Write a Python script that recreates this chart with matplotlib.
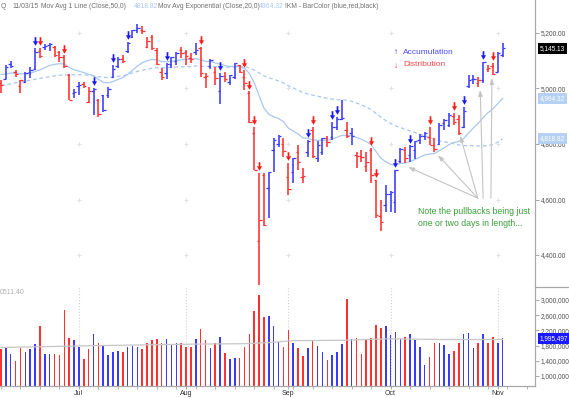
import numpy as np
import pandas as pd
import matplotlib
matplotlib.use('Agg')
import matplotlib.pyplot as plt
from matplotlib.path import Path
from matplotlib.lines import Line2D
from matplotlib.ticker import FixedLocator, MultipleLocator, NullFormatter

plt.rcParams['font.family'] = ['Liberation Sans', 'DejaVu Sans']

# ---------------- data ----------------
dates = (
    ['2015-06-%02d' % d for d in [9, 10, 11, 12, 15, 16, 17, 18, 19, 22, 23, 24, 25, 26, 29, 30]] +
    ['2015-07-%02d' % d for d in [1, 2, 6, 7, 8, 9, 10, 13, 14, 15, 16, 17, 20, 21, 22, 23, 24, 27, 28, 29, 30, 31]] +
    ['2015-08-%02d' % d for d in [3, 4, 5, 6, 7, 10, 11, 12, 13, 14, 17, 18, 19, 20, 21, 24, 25, 26, 27, 28, 31]] +
    ['2015-09-%02d' % d for d in [1, 2, 3, 4, 8, 9, 10, 11, 14, 15, 16, 17, 18, 21, 22, 23, 24, 25, 28, 29, 30]] +
    ['2015-10-%02d' % d for d in [1, 2, 5, 6, 7, 8, 9, 12, 13, 14, 15, 16, 19, 20, 21, 22, 23, 26, 27, 28, 29, 30]] +
    ['2015-11-%02d' % d for d in [2, 3]]
)

opens = [5020, 5035, 5088, 5060, 5010, 5025, 5058, 5070, 5135, 5150,
         5155, 5150, 5130, 5115, 5050, 4985, 5010, 5018, 4950, 4990,
         4960, 4975, 4975, 5040, 5080, 5105, 5135, 5185, 5212, 5210,
         5150, 5185, 5140, 5060, 5055, 5090, 5100, 5140, 5130, 5110,
         5130, 5145, 5040, 5080, 5060, 4990, 5045, 5025, 5040, 5085,
         5040, 4985, 4840, 4450, 4690, 4640, 4780, 4800, 4800, 4680,
         4700, 4770, 4680, 4770, 4850, 4750, 4770, 4820, 4825, 4860,
         4890, 4850, 4840, 4760, 4755, 4720, 4780, 4670, 4540, 4580,
         4620, 4590, 4740, 4780, 4760, 4780, 4815, 4830, 4825, 4795,
         4800, 4875, 4870, 4900, 4890, 4860, 5010, 5035, 5020, 5030,
         5070, 5080, 5060, 5120]
highs = [5030, 5085, 5099, 5066, 5031, 5059, 5077, 5146, 5146, 5160,
         5165, 5152, 5135, 5120, 5051, 4997, 5023, 5023, 5005, 5002,
         4962, 4977, 5005, 5085, 5113, 5120, 5168, 5211, 5231, 5224,
         5186, 5193, 5146, 5074, 5092, 5113, 5130, 5150, 5140, 5128,
         5164, 5150, 5056, 5105, 5077, 5056, 5060, 5050, 5092, 5085,
         5067, 4990, 4861, 4697, 4697, 4699, 4822, 4832, 4822, 4731,
         4750, 4796, 4713, 4814, 4861, 4810, 4822, 4830, 4879, 4897,
         4960, 4879, 4858, 4771, 4780, 4771, 4786, 4670, 4598, 4652,
         4630, 4708, 4786, 4790, 4795, 4812, 4835, 4843, 4861, 4822,
         4876, 4890, 4911, 4912, 4904, 4933, 5049, 5049, 5040, 5096,
         5085, 5092, 5131, 5164]
lows = [4985, 5033, 5074, 5040, 4984, 5020, 5038, 5068, 5110, 5139,
        5135, 5114, 5095, 5075, 4958, 4966, 4977, 5002, 4948, 4904,
        4897, 4915, 4966, 5038, 5074, 5092, 5128, 5182, 5200, 5195,
        5146, 5139, 5085, 5030, 5035, 5074, 5085, 5110, 5085, 5092,
        5120, 5043, 5002, 5070, 5013, 4943, 5025, 5013, 5035, 5055,
        4995, 4876, 4706, 4292, 4504, 4533, 4699, 4789, 4753, 4616,
        4660, 4706, 4660, 4753, 4750, 4735, 4760, 4790, 4815, 4850,
        4886, 4820, 4796, 4713, 4735, 4699, 4660, 4533, 4487, 4555,
        4555, 4551, 4731, 4730, 4735, 4745, 4800, 4815, 4796, 4771,
        4796, 4850, 4861, 4870, 4832, 4858, 5002, 5015, 5005, 5020,
        5060, 5049, 5059, 5113]
closes = [5013.87, 5076.69, 5082.51, 5051.10, 5029.97, 5055.55, 5064.88, 5132.95, 5117.00, 5153.97,
          5160.09, 5122.41, 5112.19, 5080.51, 4958.47, 4986.87, 5013.12, 5009.21, 4991.94, 4997.46,
          4909.76, 4922.40, 4997.70, 5071.51, 5104.89, 5098.94, 5163.18, 5210.14, 5218.86, 5208.12,
          5171.77, 5146.41, 5088.63, 5039.78, 5089.21, 5111.73, 5128.79, 5128.28, 5115.38, 5105.55,
          5139.94, 5056.44, 5043.54, 5101.80, 5036.79, 5044.39, 5033.56, 5048.24, 5091.70, 5059.35,
          5019.05, 4877.49, 4706.04, 4526.25, 4506.49, 4697.54, 4812.71, 4828.33, 4776.51, 4636.10,
          4749.98, 4733.50, 4683.92, 4811.93, 4756.53, 4796.25, 4822.34, 4805.76, 4860.52, 4889.24,
          4893.95, 4827.23, 4828.95, 4756.72, 4752.74, 4734.48, 4686.50, 4543.97, 4517.32, 4620.16,
          4627.08, 4707.78, 4781.26, 4748.36, 4791.15, 4810.79, 4830.47, 4838.64, 4796.61, 4782.85,
          4870.10, 4886.69, 4905.47, 4880.97, 4840.12, 4920.05, 5031.86, 5034.70, 5030.15, 5095.69,
          5074.27, 5053.75, 5127.15, 5145.13]
# 50 closes before the first bar (for the moving averages)
pre_closes = [4891.22, 4947.44, 4900.88, 4880.23, 4886.94, 4917.32, 4910.23, 4950.82, 4974.56, 4995.98,
              4988.25, 4977.29, 5011.02, 5007.79, 4931.81, 4994.60, 5014.10, 5035.17, 5056.06, 5092.08,
              5060.25, 5055.42, 5023.64, 4941.42, 5005.39, 5016.93, 4939.33, 4919.64, 4945.54, 5003.55,
              4993.57, 4976.19, 4981.69, 5050.80, 5048.29, 5078.44, 5070.03, 5071.74, 5090.79, 5089.36,
              5032.75, 5106.59, 5097.98, 5070.03, 5082.93, 5076.52, 5099.23, 5059.12, 5068.46, 5021.63]
volumes = [1710000, 1760000, 1570000, 1390000, 1740000, 1620000, 1710000, 1840000, 2320000, 1580000,
           1580000, 1580000, 1560000, 2740000, 1990000, 1940000, 1770000, 1450000, 1710000, 2100000,
           1860000, 1800000, 1550000, 1640000, 1660000, 1640000, 1770000, 1800000, 1750000, 1710000,
           1860000, 1940000, 1970000, 1880000, 1970000, 1840000, 1870000, 1870000, 1770000, 1770000,
           1980000, 2240000, 1940000, 1740000, 1880000, 2030000, 1600000, 1450000, 1470000, 1470000,
           1750000, 2100000, 2710000, 3130000, 2560000, 2590000, 2320000, 1900000, 1770000, 2210000,
           1880000, 1740000, 1520000, 1740000, 1920000, 1800000, 1640000, 1420000, 1550000, 1640000,
           1840000, 3030000, 1970000, 1990000, 1570000, 1940000, 1990000, 2340000, 2250000, 2310000,
           2070000, 2150000, 1970000, 2030000, 2100000, 1940000, 1770000, 1300000, 1510000, 1860000,
           1880000, 1810000, 1580000, 1660000, 1860000, 2110000, 2120000, 1740000, 1880000, 2100000,
           1880000, 2030000, 1860000, 1995497]
vol_ma_idx = [0, 20, 40, 50, 55, 60, 70, 80, 90, 103]
vol_ma_vals = [1750000, 1800000, 1840000, 1850000, 1880000, 1930000, 1940000, 1980000, 1960000, 1960000]

accumulation_days = ['2015-06-18', '2015-07-07', '2015-07-13', '2015-07-16', '2015-07-28', '2015-08-12',
                     '2015-09-08', '2015-09-15', '2015-09-16', '2015-10-02', '2015-10-07', '2015-10-22',
                     '2015-10-28']
distribution_days = ['2015-06-19', '2015-06-26', '2015-08-06', '2015-08-19', '2015-08-20', '2015-08-21',
                     '2015-08-24', '2015-09-01', '2015-09-09', '2015-09-25', '2015-09-28', '2015-10-13',
                     '2015-10-20', '2015-10-30']

price_ticks = [5200, 5000, 4800, 4600, 4400]
vol_ticks = [3000000, 2600000, 2200000, 1800000, 1400000, 1000000]
last_close_label = '5,145.13'
ema_label = '4,964.32'
sma_label = '4,818.82'
vol_label = '1,995,497'

# ---------------- derived ----------------
n = len(closes)
x = np.arange(n)
opens, highs, lows, closes = map(np.array, (opens, highs, lows, closes))
volumes = np.array(volumes)
prev_close = np.concatenate([[pre_closes[-1]], closes[:-1]])
BLUE = '#3a3aff'
RED = '#ff3030'
col = np.where(closes >= prev_close, BLUE, RED)

allc = pd.Series(list(pre_closes) + list(closes))
sma50 = allc.rolling(50).mean().to_numpy()[len(pre_closes):]
ema20 = allc.ewm(span=20, adjust=False).mean().to_numpy()[len(pre_closes):]

dts = pd.to_datetime(dates)
month_idx = [i for i in range(1, n) if dts[i].month != dts[i - 1].month]
month_lab = [dts[i].strftime('%b') for i in month_idx]
date_pos = {d: i for i, d in enumerate(dates)}
acc_idx = np.array([date_pos[d] for d in accumulation_days])
dist_idx = np.array([date_pos[d] for d in distribution_days])

# ---------------- figure ----------------
W, H = 569, 398
fig = plt.figure(figsize=(W / 100, H / 100), dpi=100)
fig.patch.set_facecolor('white')
ax = fig.add_axes([0, 1 - 287 / H, 535 / W, 287 / H])
axv = fig.add_axes([0, 1 - 386 / H, 535 / W, 99 / H])

AXC = '#a8a8a8'
LBL = '#505050'
TFS = 4.7
for a in (ax, axv):
    a.set_facecolor('white')
    for s in ('top', 'left', 'bottom'):
        a.spines[s].set_visible(False)
    a.spines['right'].set_color(AXC)
    a.spines['right'].set_linewidth(0.9)
    a.set_xlim(-0.2, 109.65)
    a.yaxis.tick_right()
    a.tick_params(axis='y', labelsize=TFS, length=3, width=0.7, color=AXC, labelcolor=LBL, pad=1)

ax.set_ylim(4284.7, 5318.9)
ax.set_yticks(price_ticks)
ax.set_yticklabels([f'{v:,.2f}' for v in price_ticks])
ax.tick_params(axis='x', bottom=False, labelbottom=False)

axv.set_ylim(736800, 3342000)
axv.set_yticks(vol_ticks)
axv.set_yticklabels([f'{v:,.0f}' for v in vol_ticks])
axv.spines['bottom'].set_visible(True)
axv.spines['bottom'].set_color(AXC)
axv.spines['bottom'].set_linewidth(0.9)
axv.xaxis.set_major_locator(FixedLocator(month_idx))
axv.set_xticklabels(month_lab)
axv.xaxis.set_minor_locator(MultipleLocator(4))
axv.xaxis.set_minor_formatter(NullFormatter())
axv.tick_params(axis='x', which='major', labelsize=5, length=2.5, width=0.7, color=AXC, labelcolor='#303030', pad=0.3)
axv.tick_params(axis='x', which='minor', length=2, width=0.6, color=AXC)
axv.grid(axis='x', which='major', linestyle=':', color='#d4d4d4', lw=0.8)

# faint grid intersection marks in price panel
gx, gy = np.meshgrid(month_idx, price_ticks)
ax.plot(gx.ravel(), gy.ravel(), ls='none', marker='+', ms=3.5, mew=0.7, color='#e2e2e2', zorder=0)

# moving averages
MA_C = '#a9c8ee'
ax.plot(x, ema20, color=MA_C, lw=0.9, zorder=1)
ax.plot(x, sma50, color=MA_C, lw=0.9, ls=(0, (3, 2.2)), zorder=1)

# OHLC bars
ax.vlines(x, lows, highs, colors=col, lw=1.15, zorder=3)
ax.hlines(opens, x - 0.5, x, colors=col, lw=0.9, zorder=3)
ax.hlines(closes, x, x + 0.5, colors=col, lw=0.9, zorder=3)

# accumulation / distribution arrows
arrow_down = Path([(-0.2, 1), (0.2, 1), (0.2, 0.05), (0.6, 0.05), (0, -1), (-0.6, 0.05), (-0.2, 0.05), (-0.2, 1)],
                  [Path.MOVETO] + [Path.LINETO] * 6 + [Path.CLOSEPOLY])
ax.scatter(acc_idx, highs[acc_idx] + 24, marker=arrow_down, s=38, color='#1a1aee', lw=0, zorder=4)
ax.scatter(dist_idx, highs[dist_idx] + 24, marker=arrow_down, s=38, color='#ff1a1a', lw=0, zorder=4)

# volume
axv.bar(x, volumes, width=0.32, color=col, lw=0, zorder=2)
axv.plot(vol_ma_idx, vol_ma_vals, color='#c6c6c6', lw=0.9, zorder=3)

# value boxes on the right axis
def value_box(a, val, txt, fc, tc):
    a.text(1.0 + 5 / 535, val, txt, transform=a.get_yaxis_transform(), fontsize=TFS, color=tc,
           va='center', ha='left', zorder=10, clip_on=False,
           bbox=dict(boxstyle='square,pad=0.3', fc=fc, ec='none'))

value_box(ax, float(closes[-1]), last_close_label, '#000000', 'white')
value_box(ax, 4964.32, ema_label, '#b4d0f2', 'white')
value_box(ax, 4818.82, sma_label, '#b4d0f2', 'white')
value_box(axv, float(volumes[-1]), vol_label, '#1a1aff', 'white')

# panel separator in the axis area
fig.add_artist(Line2D([535 / W, 1], [1 - 287 / H, 1 - 287 / H], color=AXC, lw=0.9))

# header
hy = 1 - 6 / H
fs = 4.9
HC = '#707070'
fig.text(0.5 / W, hy, 'Q', va='center', fontsize=fs, color=HC)
fig.text(12 / W, hy, '11/03/15', va='center', fontsize=fs, color=HC)
fig.text(41 / W, hy, 'Mov Avg 1 Line (Close,50,0)', va='center', fontsize=fs, color=HC)
fig.text(134 / W, hy, '4818.82', va='center', fontsize=fs, color=MA_C)
fig.text(158 / W, hy, 'Mov Avg Exponential (Close,20,0)', va='center', fontsize=fs, color=HC)
fig.text(259 / W, hy, '4964.32', va='center', fontsize=fs, color=MA_C)
fig.text(285 / W, hy, '!KM - BarColor (blue,red,black)', va='center', fontsize=fs, color=HC)

fig.text(0, 1 - 292 / H, '0511.40', va='center', fontsize=5, color='#b0b0b0')

# legend
fig.text(394 / W, 1 - 53 / H, '\u2191', va='center', fontsize=6, color='#2020ee', fontweight='bold')
fig.text(403 / W, 1 - 53 / H, 'Accumulation', va='center', fontsize=6, color='#4a4aff')
fig.text(394 / W, 1 - 67 / H, '\u2193', va='center', fontsize=6, color='#ff2020', fontweight='bold')
fig.text(403 / W, 1 - 65 / H, 'Distribution', va='center', fontsize=6, color='#ff4a4a')

# annotation
GREEN = '#3a9e3a'
fig.text(418 / W, 1 - 212 / H, 'Note the pullbacks being just', va='center', fontsize=6.3, color=GREEN)
fig.text(418 / W, 1 - 224 / H, 'one or two days in length...', va='center', fontsize=6.3, color=GREEN)
arrow_targets = [(83.6, 4717), (89.7, 4760), (94.3, 4830), (98.4, 4995), (100.8, 5038)]
arrow_tails = [(97.9, 4605), (97.9, 4605), (97.9, 4605), (99.0, 4605), (100.6, 4605)]
for (tx, ty), (sx, sy) in zip(arrow_targets, arrow_tails):
    ax.annotate('', xy=(tx, ty), xytext=(sx, sy),
                arrowprops=dict(arrowstyle='-|>,head_length=0.35,head_width=0.12', color='#c4c4c4',
                                lw=0.8, shrinkA=0, shrinkB=0), zorder=2)

fig.savefig('out.png', dpi=100, facecolor='white')
